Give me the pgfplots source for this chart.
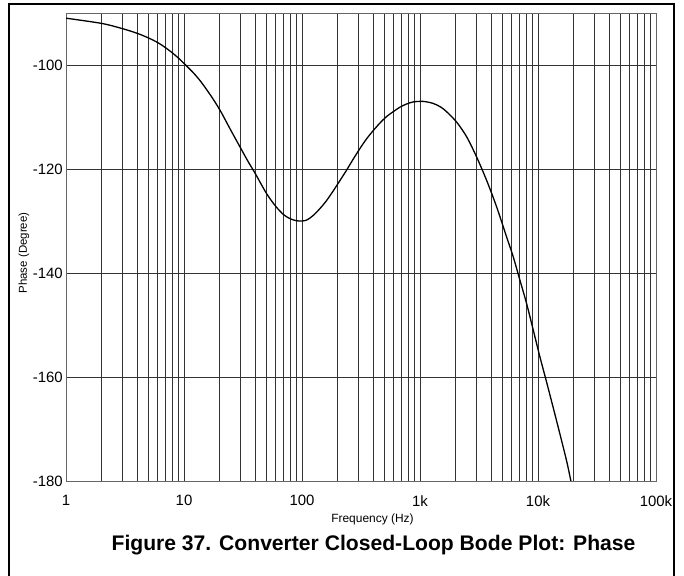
\documentclass[border=0pt]{standalone}
\usepackage{pgfplots}
\pgfplotsset{compat=1.18}
\usepackage{fontspec}
\setmainfont{Liberation Sans}
\begin{document}
\begin{tikzpicture}[x=1bp,y=1bp]
\useasboundingbox (0,0) rectangle (684,576);
\draw[line width=1.2bp] (9,0) -- (9,572) -- (674,572) -- (674,0);
\begin{axis}[
  at={(66bp,95bp)}, anchor=south west, scale only axis,
  width=590bp, height=468bp,
  xmode=log, log basis x=10,
  xmin=1, xmax=100000, ymin=-180, ymax=-90,
  xtick={1,10,100,1000,10000,100000},
  xticklabels={1,10,100,1k,10k,100k},
  minor xtick={2,3,4,5,6,7,8,9,20,30,40,50,60,70,80,90,200,300,400,500,600,700,800,900,2000,3000,4000,5000,6000,7000,8000,9000,20000,30000,40000,50000,60000,70000,80000,90000},
  ytick={-180,-160,-140,-120,-100},
  yticklabels={-180,-160,-140,-120,-100},
  xmajorgrids, xminorgrids, ymajorgrids,
  major grid style={black!80, line width=0.8bp},
  minor grid style={black!80, line width=0.8bp},
  axis line style={black!60, line width=0.9bp},
  major tick length=0pt, minor tick length=0pt,
  xticklabel style={font=\fontsize{15}{15}\selectfont, anchor=north, inner sep=0pt, yshift=-14bp},
  yticklabel style={font=\fontsize{15}{15}\selectfont, anchor=east, inner sep=0pt, xshift=-3bp},
  clip=true,
]
\addplot[black, line width=1.3bp, smooth] table {
x y
1 -91.0
2 -92.0
3 -93.0
4 -93.9
5 -94.8
6 -95.7
7 -96.7
8 -97.7
9 -98.7
10 -99.7
12 -101.5
14 -103.3
17 -106.0
20.2 -108.7
25 -112.6
29.9 -115.8
35 -118.6
40 -120.8
50 -124.7
60 -127.2
70 -128.8
80 -129.6
90 -129.95
100 -130.0
110 -129.8
125 -128.9
142 -127.6
160 -126.2
184 -124.2
210 -122.2
239 -120.2
270 -118.2
309 -116.1
350 -114.3
402 -112.6
460 -111.1
522 -109.9
600 -108.9
677 -108.1
770 -107.5
879 -107.1
1067 -107.0
1297 -107.4
1500 -108.1
1683 -109.0
2046 -111.0
2484 -113.8
3020 -117.7
3671 -122.2
4463 -127.3
5424 -133.1
6170 -136.9
7030 -141.4
8010 -145.9
9120 -151.0
10400 -156.2
11830 -161.0
13490 -166.0
15350 -171.0
17500 -176.2
19000 -180.0
};
\end{axis}
\node[font=\fontsize{12}{12}\selectfont] at (372.5,57) {Frequency (Hz)};
\node[rotate=90, font=\fontsize{11.5}{12}\selectfont] at (24,323) {Phase (Degree)};
\node[font=\bfseries\fontsize{21.2}{23}\selectfont] at (373.5,31) {Figure 37. Converter Closed-Loop Bode Plot: Phase};
\end{tikzpicture}
\end{document}
